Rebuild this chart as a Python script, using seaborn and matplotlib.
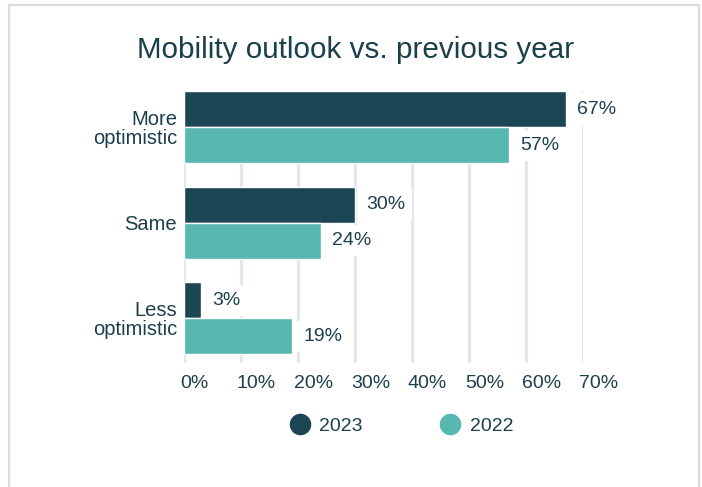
import matplotlib
matplotlib.use("Agg")
import matplotlib.pyplot as plt
import matplotlib.transforms as mtransforms
from matplotlib.lines import Line2D
from matplotlib.patches import Rectangle
import seaborn as sns
import pandas as pd

# ---- data ----
categories = ["More\noptimistic", "Same", "Less\noptimistic"]
years = ["2023", "2022"]
values_2023 = [67, 30, 3]
values_2022 = [57, 24, 19]
xticks = [0, 10, 20, 30, 40, 50, 60, 70]
title = "Mobility outlook vs. previous year"

df = pd.DataFrame({
    "category": categories * 2,
    "year": [years[0]] * 3 + [years[1]] * 3,
    "value": values_2023 + values_2022,
})

DARK = "#1d4654"
LIGHT = "#58b7b1"
TEXT = "#1b3f4b"
GRID = "#e2e7e7"

sns.set_theme(style="white")
plt.rcParams["font.family"] = ["Liberation Sans", "DejaVu Sans"]

W, H = 702, 487
fig = plt.figure(figsize=(W / 100, H / 100), dpi=100)
fig.patch.set_facecolor("white")

# plot area in pixels: x 184..583, y 91..363
ax = fig.add_axes([184 / W, 1 - 363 / H, (583 - 184) / W, (363 - 91) / H])

sns.barplot(data=df, y="category", x="value", hue="year", orient="h",
            palette=[DARK, LIGHT], hue_order=years, order=categories,
            width=0.754, ax=ax, zorder=2, legend=False, saturation=1)

ax.set_xlim(0, 70)
ax.set_ylim(2.47, -0.377)
ax.set_xticks(xticks)
ax.set_xticklabels([f"{v}%" for v in xticks])
ax.grid(axis="x", color=GRID, linewidth=2.3, zorder=0)
ax.grid(axis="y", visible=False)
ax.set_axisbelow(True)
for s in ax.spines.values():
    s.set_visible(False)
ax.set_xlabel("")
ax.set_ylabel("")
ax.tick_params(axis="x", length=0, pad=8.5, labelsize=14, labelcolor=TEXT)
ax.tick_params(axis="y", length=0, pad=5, labelsize=14.5, labelcolor=TEXT)

offset = mtransforms.ScaledTranslation(-4 / 100, 0, fig.dpi_scale_trans)
for lab in ax.get_xticklabels():
    lab.set_horizontalalignment("left")
    lab.set_transform(lab.get_transform() + offset)
for lab in ax.get_yticklabels():
    lab.set_linespacing(1.0)

# value labels with white boxes that interrupt gridlines
for cont, vals in zip(ax.containers, [values_2023, values_2022]):
    for bar, v in zip(cont, vals):
        y = bar.get_y() + bar.get_height() / 2
        ax.annotate(f"{v}%", xy=(bar.get_width(), y), xytext=(11, 0),
                    textcoords="offset pixels", ha="left", va="center",
                    fontsize=14, color=TEXT, zorder=3, annotation_clip=False,
                    bbox=dict(boxstyle="square,pad=0.36", fc="white", ec="none"))

fig.text(355.5 / W, 1 - 58 / H, title, ha="center", va="baseline",
         fontsize=21.3, color=TEXT)

handles = [Line2D([], [], marker="o", linestyle="none", markersize=14.5,
                  markerfacecolor=c, markeredgecolor=c) for c in [DARK, LIGHT]]
fig.legend(handles, years, loc="center", bbox_to_anchor=(401.5 / W, 1 - 426 / H),
           ncol=2, frameon=False, fontsize=14, labelcolor=TEXT,
           handlelength=1.0, handletextpad=0.5, columnspacing=4.0,
           borderpad=0, borderaxespad=0)

fig.patches.append(Rectangle((9 / W, -0.05), (699 - 9) / W, 1 - 5 / H + 0.05,
                             transform=fig.transFigure, fill=False,
                             edgecolor="#dcdcdc", linewidth=1.6))

fig.savefig("out.png", dpi=100, facecolor="white")
